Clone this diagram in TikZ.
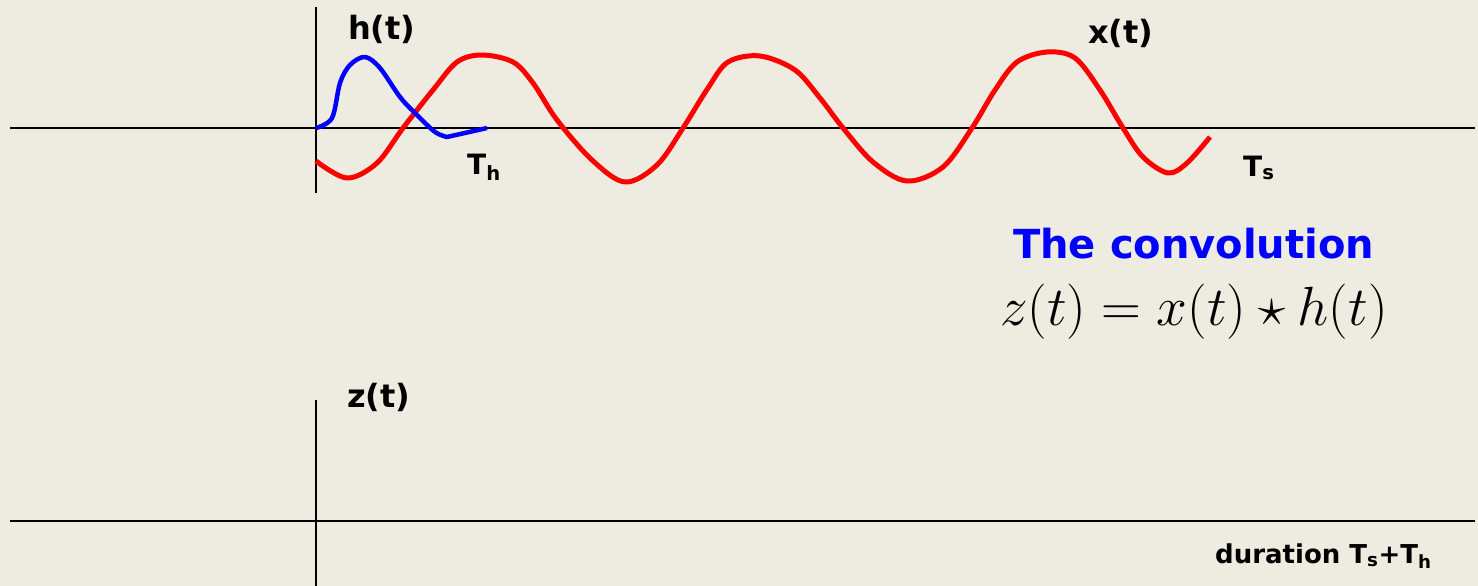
\documentclass[tikz,border=0pt]{standalone}
\usepackage{fontspec}
\setmainfont{DejaVu Sans}
\usepackage{amsmath}
\usetikzlibrary{positioning,calc}

\definecolor{paper}{HTML}{EEEBE0}
\definecolor{sigred}{HTML}{FF0000}
\definecolor{sigblue}{HTML}{0000FF}

\begin{document}
\begin{tikzpicture}[
    x=1pt, y=-1pt,
    axis/.style={draw=black, line width=2.4pt},
    signal/.style={draw=#1, line width=5pt, line join=round},
    lbl/.style={font=\fontsize{#1}{#1}\selectfont\bfseries, inner sep=0pt, anchor=base west}
]

% Background
\useasboundingbox (0,0) rectangle (1478,586);
\fill[paper] (0,0) rectangle (1478,586);

% Axes
\draw[axis] (10,128) -- (1475,128);
\draw[axis] (316,7) -- (316,193);
\draw[axis] (10,521) -- (1475,521);
\draw[axis] (316,400) -- (316,586);

% Input x(t)
\draw[signal=sigred] plot[smooth, tension=0.55] coordinates {
    (316,161) (347,178) (377,163) (403,128) (433,90) (457,62) (482,55)
    (513,62) (533,83) (557,120) (592,160) (625,182) (657,165) (683,128)
    (708,88) (728,62) (760,56) (795,70) (820,98) (843,128) (873,162)
    (907,181) (943,167) (972,128) (995,90) (1017,62) (1047,52) (1075,58)
    (1100,90) (1123,128) (1143,157) (1168,173) (1187,163) (1210,137)};

% Impulse response h(t)
\draw[signal=sigblue, line width=4.5pt] plot[smooth, tension=0.55] coordinates {
    (316,128) (332,118) (340,83) (350,65) (365,57) (380,68) (400,97)
    (417,115) (435,132) (447,137)} -- (487,128);

% Labels
\node[lbl=32] (hlabel) at (348,40) {h(t)};
\node[lbl=32] (xlabel) at (1088,44) {x(t)};
\node[lbl=28] (thlabel) at (467,174) {T\textsubscript{h}};
\node[lbl=28] (tslabel) at (1243,176) {T\textsubscript{s}};
\node[lbl=32] (zlabel) at (347,407) {z(t)};

% Convolution
\node[lbl=40, text=sigblue] (title) at (1013,258) {The convolution};
\node[inner sep=0pt, anchor=base west] (formula) at (1000,325)
    {\scalebox{2.22}{\Huge $z(t) = x(t) \star h(t)$}};

\node[lbl=26] (duration) at (1215,563) {duration T\textsubscript{s}+T\textsubscript{h}};

\end{tikzpicture}
\end{document}
